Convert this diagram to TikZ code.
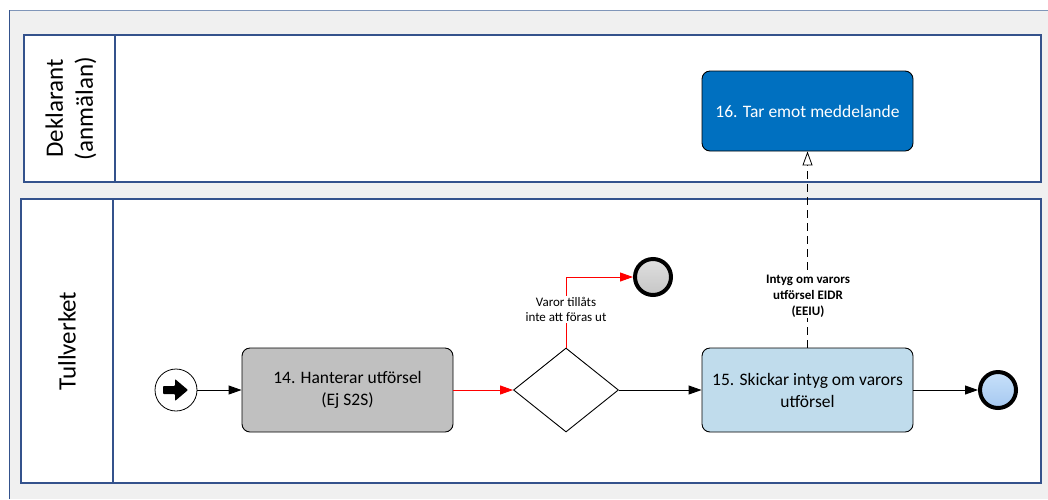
\documentclass[tikz,border=0pt]{standalone}
\usepackage{fontspec}
\setmainfont{Carlito}
\usetikzlibrary{arrows.meta,shapes.geometric}
\definecolor{lanec}{RGB}{52,82,140}
\definecolor{framec}{RGB}{128,150,185}
\definecolor{bgc}{RGB}{240,240,240}
\definecolor{taskgray}{RGB}{192,192,192}
\definecolor{taskblue}{RGB}{192,220,236}
\definecolor{taskdark}{RGB}{0,112,192}
\tikzset{
  lane/.style={draw=lanec, line width=1.2pt, fill=white},
  task/.style={draw=black, line width=0.9pt, rounded corners=8pt, minimum width=211pt, align=center, inner sep=2pt},
  tasktext/.style={font=\fontsize{17.5}{22}\selectfont},
  lanelabel/.style={rotate=90, align=center, font=\fontsize{25}{30}\selectfont},
  flow/.style={draw=black, line width=0.9pt, -{Triangle[length=13pt,width=9pt]}},
  redflow/.style={draw=red, line width=0.9pt, -{Triangle[length=13pt,width=9pt]}},
  msgflow/.style={draw=black, line width=0.8pt, dash pattern=on 8pt off 5pt, -{Triangle[open,length=14pt,width=10pt,fill=white]}},
  endev/.style={circle, draw=black, line width=4pt, minimum size=36pt, inner sep=0pt},
  lbl/.style={fill=white, inner sep=1pt, align=center}
}
\begin{document}
\begin{tikzpicture}[x=1pt,y=-1pt]
\useasboundingbox (0,0) rectangle (1048,499);
% outer frame
\fill[bgc] (9,10) rectangle (1048,499);
\draw[framec, line width=1pt] (9,499) -- (9,10) -- (1048,10);
\draw[lanec, line width=1pt] (9,499) -- (9,10);
% lanes
\draw[lane] (24,35) rectangle (1041,182);
\draw[lanec, line width=1.2pt] (115,35) -- (115,182);
\draw[lane] (21,199) rectangle (1041,483);
\draw[lanec, line width=1.2pt] (113,199) -- (113,483);
\node[lanelabel] (lab1) at (71,108.5) {Deklarant\\(anmälan)};
\node[lanelabel] (lab2) at (67,341) {Tullverket};
% start event
\node[circle, draw=black, line width=0.8pt, fill=white, minimum size=42pt, inner sep=0pt] (start) at (176,390) {};
\fill[black, rounded corners=0.8pt] (163,386) -- (175,386) -- (175,379) -- (188,390) -- (175,401) -- (175,394) -- (163,394) -- cycle;
% tasks
\node[task, tasktext, fill=taskgray, minimum height=84pt] (t14) at (347.5,390) {14. Hanterar utförsel\\(Ej S2S)};
\node[diamond, draw=black, line width=0.9pt, fill=white, minimum width=105pt, minimum height=84pt, inner sep=0pt] (gw) at (566,390) {};
\node[task, tasktext, fill=taskblue, minimum height=84pt] (t15) at (807.5,390) {15. Skickar intyg om varors\\utförsel};
\node[task, tasktext, fill=taskdark, text=white, minimum height=80pt] (t16) at (807.5,111) {16. Tar emot meddelande};
% end events
\node[endev, top color=gray!25, bottom color=gray!45] (end1) at (653,277) {};
\node[endev, top color={rgb,255:red,200;green,225;blue,250}, bottom color={rgb,255:red,165;green,200;blue,240}] (end2) at (998,390) {};
% flows
\draw[flow] (start) -- (t14);
\draw[redflow] (t14) -- (gw.west);
\draw[redflow] (gw.north) |- (end1);
\draw[flow] (gw.east) -- (t15);
\draw[flow] (t15) -- (end2);
\draw[msgflow] (t15) -- (t16);
% labels
\node[lbl, font=\fontsize{13}{15}\selectfont] (l1) at (566,309.5) {Varor tillåts\\inte att föras ut};
\node[lbl, font=\fontsize{13}{16}\selectfont\bfseries] (l2) at (808,296) {Intyg om varors\\utförsel EIDR\\(EEIU)};
\end{tikzpicture}
\end{document}
